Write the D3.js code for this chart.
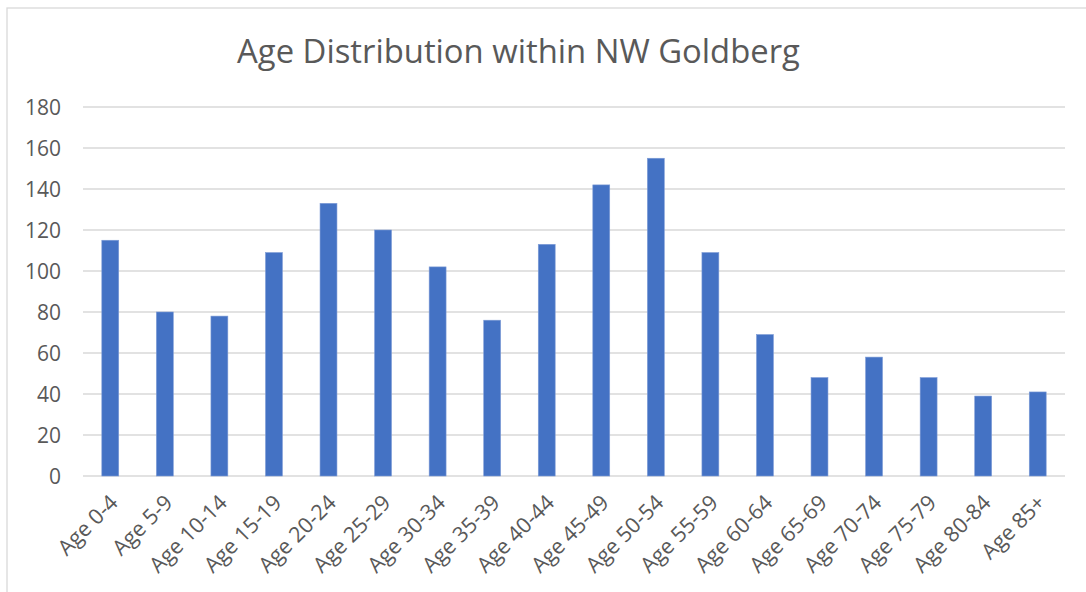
<!DOCTYPE html>
<html>
<head>
<meta charset="utf-8">
<script src="https://cdn.jsdelivr.net/npm/d3@7"></script>
<style>
  html, body { margin: 0; padding: 0; background: #fff; }
  svg { display: block; }
  text { font-family: "Open Sans", "Noto Sans", sans-serif; fill: #595959; }
</style>
</head>
<body>
<svg id="chart"></svg>
<script>
// dati
const categories = ["Age 0-4", "Age 5-9", "Age 10-14", "Age 15-19", "Age 20-24", "Age 25-29",
  "Age 30-34", "Age 35-39", "Age 40-44", "Age 45-49", "Age 50-54", "Age 55-59",
  "Age 60-64", "Age 65-69", "Age 70-74", "Age 75-79", "Age 80-84", "Age 85+"];
const values = [115, 80, 78, 109, 133, 120, 102, 76, 113, 142, 155, 109, 69, 48, 58, 48, 39, 41];
const yTicks = [0, 20, 40, 60, 80, 100, 120, 140, 160, 180];
const title = "Age Distribution within NW Goldberg";

const width = 1086, height = 592;
const margin = { top: 107, right: 21, bottom: 116, left: 83 };

const svg = d3.select("#chart")
  .attr("width", width)
  .attr("height", height);

// cornice del grafico (esce a destra e in basso)
svg.append("rect")
  .attr("x", 7).attr("y", 8)
  .attr("width", width + 20).attr("height", height + 20)
  .attr("fill", "none")
  .attr("stroke", "#d9d9d9")
  .attr("stroke-width", 1.3);

const x = d3.scaleBand()
  .domain(categories)
  .range([margin.left, width - margin.right])
  .paddingInner(0.69)
  .paddingOuter(0.345);

const y = d3.scaleLinear()
  .domain([0, 180])
  .range([height - margin.bottom, margin.top]);

// griglia orizzontale
svg.append("g")
  .selectAll("line")
  .data(yTicks)
  .enter()
  .append("line")
  .attr("x1", margin.left)
  .attr("x2", width - margin.right)
  .attr("y1", d => y(d))
  .attr("y2", d => y(d))
  .attr("stroke", "#d9d9d9")
  .attr("stroke-width", 1.5);

// etichette asse y
svg.append("g")
  .selectAll("text")
  .data(yTicks)
  .enter()
  .append("text")
  .attr("x", 61)
  .attr("y", d => y(d))
  .attr("dy", "0.36em")
  .attr("text-anchor", "end")
  .style("font-size", "21px")
  .text(d => d);

// barre
svg.append("g")
  .selectAll("rect")
  .data(values)
  .enter()
  .append("rect")
  .attr("x", (d, i) => x(categories[i]))
  .attr("width", x.bandwidth())
  .attr("y", d => y(d))
  .attr("height", d => y(0) - y(d))
  .attr("fill", "#4472c4")
  .attr("stroke", "#7d9bd6")
  .attr("stroke-width", 0.6);

// etichette asse x ruotate
svg.append("g")
  .selectAll("text")
  .data(categories)
  .enter()
  .append("text")
  .attr("text-anchor", "end")
  .attr("transform", d => `translate(${x(d) + x.bandwidth() / 2 + 9},${y(0) + 28}) rotate(-45)`)
  .style("font-size", "21.5px")
  .text(d => d);

// titolo
const t = svg.append("text")
  .attr("x", 518.5)
  .attr("y", 63)
  .attr("text-anchor", "middle")
  .style("font-size", "100px")
  .text(title);
const w = t.node().getComputedTextLength();
t.style("font-size", (100 * 563 / w) + "px");
</script>
</body>
</html>
